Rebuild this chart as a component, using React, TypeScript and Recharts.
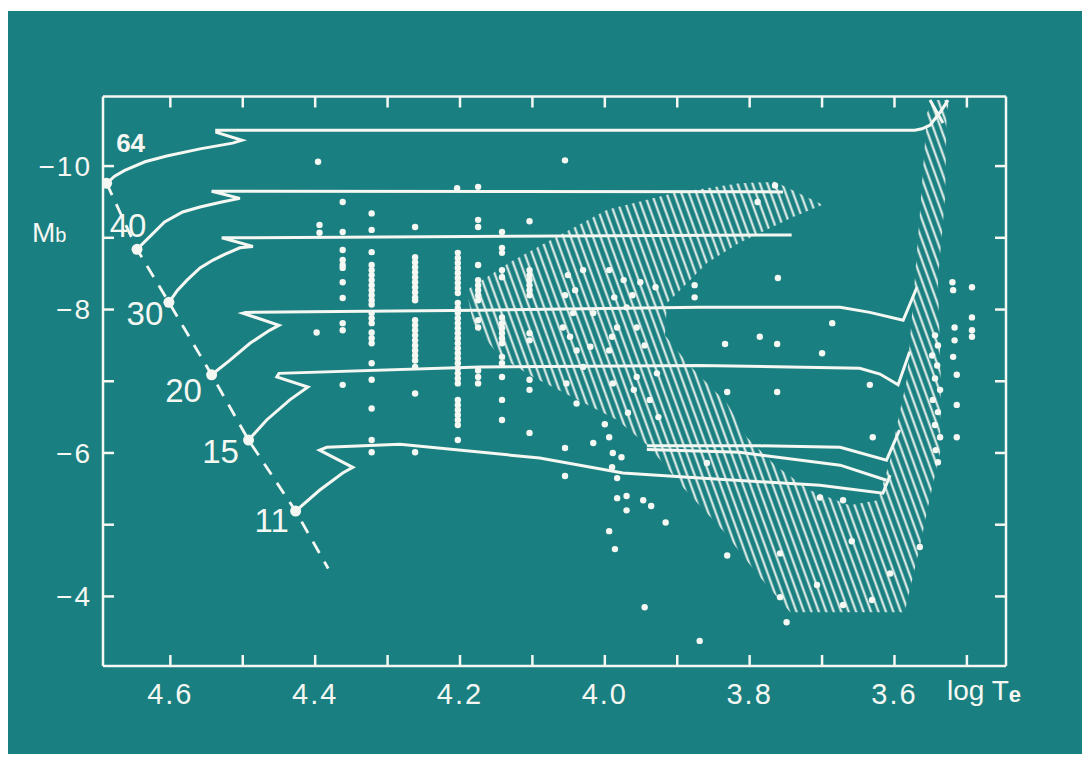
import React from 'react';
import { ComposedChart, XAxis, YAxis, Line, Scatter } from 'recharts';

const TEAL = '#1a7f80';
const INK = '#f4f7f2';
const FONT = '"Liberation Sans", Arial, Helvetica, sans-serif';

// axis ticks (log Te, Mb)
const xTicks = [4.6, 4.5, 4.4, 4.3, 4.2, 4.1, 4.0, 3.9, 3.8, 3.7, 3.6, 3.5];
const yTicks = [-10, -9, -8, -7, -6, -5, -4];

// evolutionary tracks, [log Te, Mb]
const track64 = [[4.688, -9.76], [4.677, -9.86], [4.663, -9.94], [4.635, -10.06], [4.605, -10.14], [4.559, -10.24], [4.514, -10.32], [4.501, -10.36], [4.536, -10.47], [4.536, -10.5], [3.572, -10.5], [3.562, -10.52], [3.551, -10.57], [3.537, -10.75], [3.526, -10.92]];
const cross64 = [[3.551, -10.92], [3.533, -10.6]];
const track40 = [[4.646, -8.84], [4.628, -9.02], [4.608, -9.22], [4.583, -9.36], [4.559, -9.43], [4.529, -9.5], [4.504, -9.55], [4.543, -9.65], [3.754, -9.64]];
const track30 = [[4.602, -8.1], [4.59, -8.27], [4.577, -8.41], [4.559, -8.58], [4.541, -8.69], [4.525, -8.77], [4.504, -8.86], [4.486, -8.88], [4.529, -9.0], [3.742, -9.04]];
const track20 = [[4.543, -7.09], [4.518, -7.29], [4.49, -7.53], [4.463, -7.71], [4.45, -7.78], [4.5, -7.95], [4.496, -7.96], [4.173, -7.99], [3.869, -8.03], [3.675, -8.03], [3.634, -7.96], [3.588, -7.85], [3.569, -8.31]];
const track15 = [[4.492, -6.18], [4.467, -6.46], [4.435, -6.74], [4.41, -6.92], [4.453, -7.06], [4.45, -7.11], [4.173, -7.2], [3.869, -7.22], [3.648, -7.18], [3.62, -7.1], [3.595, -6.95], [3.579, -7.41]];
const track11 = [[4.427, -5.19], [4.394, -5.48], [4.362, -5.72], [4.348, -5.8], [4.394, -6.04], [4.384, -6.08], [4.283, -6.12], [4.09, -5.93], [3.975, -5.72], [3.869, -5.65], [3.703, -5.55], [3.616, -5.44], [3.606, -5.69]];
const loopA = [[3.942, -6.1], [3.786, -6.1], [3.675, -6.08], [3.611, -5.9], [3.593, -6.32]];
const loopB = [[3.942, -6.05], [3.814, -6.01], [3.675, -5.83], [3.611, -5.62]];

// zero-age main sequence points with masses
const zamsMass = ['64', '40', '30', '20', '15', '11'];
const zamsT = [4.688, 4.646, 4.602, 4.543, 4.492, 4.427];
const zamsM = [-9.76, -8.84, -8.1, -7.09, -6.18, -5.19];
const zamsEnd = [4.382, -4.39];

// hatched region outline
const hatch = [
  [4.191, -8.27], [4.131, -8.66], [4.062, -9.04], [3.997, -9.39], [3.906, -9.62], [3.814, -9.76], [3.765, -9.78], [3.699, -9.46],
  [3.74, -9.29], [3.814, -8.93], [3.859, -8.65], [3.892, -8.31], [3.914, -8.09], [3.917, -7.64], [3.883, -7.22], [3.831, -6.69],
  [3.804, -6.22], [3.765, -5.83], [3.717, -5.48], [3.662, -5.27], [3.623, -5.34], [3.606, -5.9], [3.593, -6.56], [3.583, -7.02],
  [3.572, -8.41], [3.565, -9.34], [3.555, -10.74], [3.547, -10.92], [3.524, -10.92], [3.528, -10.74], [3.53, -9.57], [3.54, -8.41],
  [3.536, -7.02], [3.537, -6.0], [3.551, -5.38], [3.565, -4.69], [3.586, -3.78], [3.744, -3.78], [3.79, -4.32], [3.837, -4.92],
  [3.892, -5.52], [3.938, -6.08], [3.983, -6.46], [4.072, -6.92], [4.099, -7.06], [4.145, -7.34], [4.182, -7.81],
];

// observed stars
const stars = [
  [4.396, -10.06], [4.055, -10.08], [4.362, -9.5], [4.204, -9.69], [4.175, -9.71], [4.394, -9.18], [4.394, -9.07], [4.362, -9.08],
  [4.322, -9.34], [4.322, -9.11], [4.262, -9.15], [4.175, -9.25], [4.175, -9.15], [4.142, -9.08], [4.104, -9.23],
  [4.362, -8.83], [4.362, -8.69], [4.362, -8.62], [4.362, -8.58], [4.362, -8.38], [4.362, -8.16], [4.362, -7.81], [4.362, -7.71], [4.362, -6.95],
  [4.398, -7.68],
  [4.322, -8.8], [4.322, -8.62], [4.322, -8.55], [4.322, -8.48], [4.322, -8.41], [4.322, -8.34], [4.322, -8.27], [4.322, -8.2], [4.322, -8.13],
  [4.322, -8.07], [4.322, -7.95], [4.322, -7.88], [4.322, -7.81], [4.322, -7.68], [4.322, -7.6], [4.322, -7.53], [4.322, -7.25], [4.322, -7.02],
  [4.322, -6.62], [4.322, -6.18], [4.322, -6.01],
  [4.262, -8.73], [4.262, -8.66], [4.262, -8.59], [4.262, -8.52], [4.262, -8.45], [4.262, -8.38], [4.262, -8.31], [4.262, -8.24], [4.262, -8.17],
  [4.262, -8.13], [4.262, -7.85], [4.262, -7.78], [4.262, -7.71], [4.262, -7.64], [4.262, -7.57], [4.262, -7.5], [4.262, -7.43], [4.262, -7.36],
  [4.262, -7.29], [4.262, -7.2], [4.262, -6.83], [4.262, -6.01],
  [4.203, -8.79], [4.203, -8.72], [4.203, -8.65], [4.203, -8.58], [4.203, -8.51], [4.203, -8.44], [4.203, -8.37], [4.203, -8.3], [4.203, -8.23],
  [4.203, -8.09], [4.203, -8.02], [4.203, -7.95], [4.203, -7.88], [4.203, -7.81], [4.203, -7.74], [4.203, -7.67], [4.203, -7.6], [4.203, -7.53],
  [4.203, -7.46], [4.203, -7.39], [4.203, -7.32], [4.203, -7.25], [4.203, -7.18], [4.203, -7.11], [4.203, -7.04], [4.203, -6.97], [4.203, -6.74],
  [4.203, -6.67], [4.203, -6.6], [4.203, -6.53], [4.203, -6.46], [4.203, -6.39], [4.203, -6.18],
  [4.175, -8.62], [4.175, -8.41], [4.175, -8.34], [4.175, -8.27], [4.175, -8.2], [4.175, -8.13], [4.175, -7.85], [4.175, -7.75], [4.175, -7.15],
  [4.175, -7.06], [4.175, -6.97],
  [4.142, -8.86], [4.142, -8.79], [4.142, -8.55], [4.142, -8.45], [4.142, -7.89], [4.142, -7.81], [4.142, -7.74], [4.142, -7.67], [4.142, -7.6],
  [4.142, -7.53], [4.142, -7.34], [4.142, -7.25], [4.142, -7.06], [4.142, -6.74], [4.142, -6.46],
  [4.104, -8.55], [4.104, -8.48], [4.104, -8.41], [4.104, -8.34], [4.104, -8.27], [4.104, -8.2], [4.104, -7.67], [4.104, -7.57], [4.104, -7.02],
  [4.104, -6.88], [4.104, -6.28],
  [4.051, -8.48], [4.055, -8.2], [4.044, -7.95], [4.048, -7.62], [4.039, -7.43], [4.053, -6.97], [4.039, -6.69],
  [4.03, -8.55], [4.041, -8.27], [4.058, -7.75], [4.03, -7.2], [4.016, -7.95], [3.97, -8.03], [3.956, -7.75], [3.945, -7.5], [3.928, -7.11],
  [3.96, -6.88], [4.0, -6.4], [4.02, -7.48], [3.99, -7.62], [3.962, -8.2],
  [3.994, -8.55], [3.987, -8.17], [3.983, -7.75], [3.994, -7.43], [3.974, -8.41], [3.951, -8.38], [3.93, -8.31], [3.989, -6.97], [3.956, -7.06],
  [3.938, -6.74], [3.968, -6.56], [3.926, -6.5], [3.994, -6.22], [3.977, -5.94],
  [4.055, -6.07], [4.016, -6.14], [4.055, -5.68], [3.99, -5.8], [3.989, -6.0], [3.983, -5.65], [3.983, -5.37], [3.97, -5.4], [3.947, -5.34],
  [3.97, -5.2], [3.936, -5.26], [3.916, -5.03], [3.994, -4.91], [3.986, -4.66],
  [3.765, -9.73], [3.789, -9.5], [3.761, -8.44], [3.876, -8.34], [3.876, -8.17], [3.686, -7.81], [3.834, -7.52], [3.786, -7.62], [3.762, -7.52],
  [3.7, -7.39], [3.831, -6.85], [3.762, -6.85],
  [3.859, -5.86], [3.831, -4.57], [3.945, -3.85], [3.869, -3.38], [3.749, -3.64], [3.758, -3.99], [3.703, -5.38], [3.758, -4.6], [3.707, -4.16],
  [3.634, -6.95], [3.514, -6.67], [3.63, -6.22], [3.514, -6.22], [3.671, -5.34], [3.659, -4.77], [3.606, -4.32], [3.631, -3.95], [3.671, -3.88],
  [3.565, -4.69],
  [3.544, -7.64], [3.54, -7.5], [3.548, -7.36], [3.541, -7.22], [3.544, -7.04], [3.537, -6.88], [3.547, -6.74], [3.54, -6.57], [3.544, -6.39],
  [3.537, -6.22], [3.543, -6.04], [3.54, -5.87],
  [3.52, -8.38], [3.519, -8.27], [3.493, -8.31], [3.517, -7.75], [3.493, -7.89], [3.493, -7.71], [3.493, -7.62], [3.517, -7.57], [3.519, -7.34],
  [3.514, -7.09],
];

const pts = (a: number[][]) => a.map(([t, m]) => ({ t, m }));

const zams = zamsMass.map((label, i) => ({ t: zamsT[i], m: zamsM[i], label }));
const zamsLine = [...zams.map(({ t, m }) => ({ t, m })), { t: zamsEnd[0], m: zamsEnd[1] }];
const tracks = [track64, cross64, track40, track30, track20, track15, track11, loopA, loopB];

// where each mass label sits relative to its dot
const labelPos: Record<string, { dx: number; dy: number; size: number; weight: number }> = {
  '64': { dx: 24, dy: -31, size: 26, weight: 700 },
  '40': { dx: -9, dy: -12, size: 33, weight: 400 },
  '30': { dx: -24, dy: 23, size: 33, weight: 400 },
  '20': { dx: -28, dy: 27, size: 33, weight: 400 },
  '15': { dx: -28, dy: 23, size: 33, weight: 400 },
  '11': { dx: -24, dy: 21, size: 33, weight: 400 },
};

const xLabel = (v: number) => (Math.round(v * 10) % 2 === 0 ? v.toFixed(1) : '');
const yLabel = (v: number) => (Math.abs(v) % 2 === 0 ? '\u2212' + Math.abs(v) : '');
const blank = () => '';

const tickStyle = { fill: INK, fontSize: 29, fontFamily: FONT, letterSpacing: 2 };
const frame = { stroke: INK, strokeWidth: 2.5 };

const ZamsDot = (p: any) => {
  const pos = labelPos[p.payload.label];
  return (
    <g>
      <circle cx={p.cx} cy={p.cy} r={5.5} fill={INK} />
      <text
        x={p.cx + pos.dx}
        y={p.cy + pos.dy}
        textAnchor="middle"
        fill={INK}
        fontSize={pos.size}
        fontWeight={pos.weight}
        fontFamily={FONT}
      >
        {p.payload.label}
      </text>
    </g>
  );
};

const StarDot = (p: any) => <circle cx={p.cx} cy={p.cy} r={3.2} fill={INK} />;
const NoDot = () => <g />;

export default function App() {
  return (
    <div style={{ position: 'relative', top: 3, width: 1076, height: 746, background: TEAL, fontFamily: FONT }}>
      <ComposedChart width={1076} height={746} margin={{ top: 55.5, right: 48, bottom: 51, left: 35 }}>
        <defs>
          <pattern id="hatch" patternUnits="userSpaceOnUse" width={7} height={7} patternTransform="rotate(-20)">
            <line x1={3.5} y1={0} x2={3.5} y2={7} stroke={INK} strokeWidth={2} />
          </pattern>
        </defs>
        <XAxis
          dataKey="t"
          type="number"
          domain={[3.446, 4.693]}
          reversed
          allowDataOverflow
          ticks={xTicks}
          interval={0}
          height={40}
          tickSize={-11}
          tickMargin={28}
          tickFormatter={xLabel}
          tick={tickStyle}
          axisLine={frame}
          tickLine={frame}
        />
        <XAxis
          xAxisId="top"
          orientation="top"
          dataKey="t"
          type="number"
          domain={[3.446, 4.693]}
          reversed
          allowDataOverflow
          ticks={xTicks}
          interval={0}
          height={30}
          tickSize={-11}
          tickFormatter={blank}
          axisLine={frame}
          tickLine={frame}
        />
        <YAxis
          dataKey="m"
          type="number"
          domain={[-10.97, -3.03]}
          reversed
          allowDataOverflow
          ticks={yTicks}
          interval={0}
          width={60}
          tickSize={-11}
          tickMargin={22}
          tickFormatter={yLabel}
          tick={{ ...tickStyle, fontSize: 28 }}
          axisLine={frame}
          tickLine={frame}
        />
        <YAxis
          yAxisId="r"
          orientation="right"
          dataKey="m"
          type="number"
          domain={[-10.97, -3.03]}
          reversed
          allowDataOverflow
          ticks={yTicks}
          interval={0}
          width={30}
          tickSize={-11}
          tickFormatter={blank}
          axisLine={frame}
          tickLine={frame}
        />

        <Scatter
          data={pts(hatch)}
          dataKey="m"
          fill="none"
          line={{ fill: 'url(#hatch)', stroke: 'none' }}
          shape={NoDot}
          isAnimationActive={false}
        />
        <Scatter data={pts(stars)} dataKey="m" fill={INK} shape={StarDot} isAnimationActive={false} />

        {tracks.map((tr, i) => (
          <Line
            key={i}
            data={pts(tr)}
            dataKey="m"
            type="linear"
            stroke={INK}
            strokeWidth={3}
            strokeLinejoin="miter"
            dot={false}
            activeDot={false}
            isAnimationActive={false}
          />
        ))}
        <Line
          data={zamsLine}
          dataKey="m"
          type="linear"
          stroke={INK}
          strokeWidth={2.8}
          strokeDasharray="13 10"
          dot={false}
          activeDot={false}
          isAnimationActive={false}
        />
        <Scatter data={zams} dataKey="m" fill={INK} shape={ZamsDot} isAnimationActive={false} />

        <text x={24} y={231} fill={INK} fontSize={28} fontFamily={FONT}>
          M<tspan fontSize={20}>b</tspan>
        </text>
        <text x={939} y={689} fill={INK} fontSize={28} fontFamily={FONT}>
          log T<tspan fontSize={22} fontWeight={700} dy={2}>e</tspan>
        </text>
      </ComposedChart>
    </div>
  );
}
